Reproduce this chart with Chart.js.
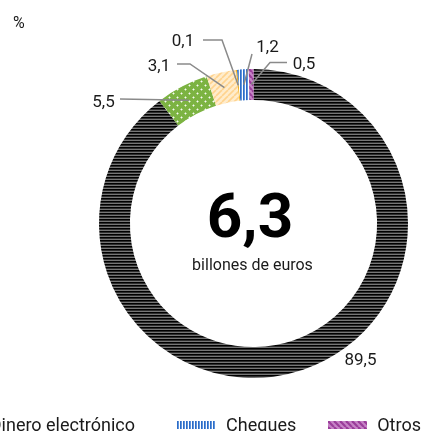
<!DOCTYPE html>
<html><head><meta charset="utf-8">
<script src="https://cdn.jsdelivr.net/npm/chart.js@4.4.1/dist/chart.umd.min.js"></script>
<style>
html,body{margin:0;padding:0;background:#fff;width:422px;height:431px;overflow:hidden;position:relative;font-family:Roboto,sans-serif;}
#c{position:absolute;left:0;top:0;}
#legend{position:absolute;right:1px;top:414px;white-space:nowrap;display:flex;align-items:center;font-size:18px;color:#1a1a1a;}
.item{display:flex;align-items:center;margin-left:32px;}
.item.wide{margin-left:42px;}
.item canvas{margin-right:10px;display:block;}
</style></head><body>
<canvas id="c" width="422" height="431"></canvas>
<div id="legend"></div>
<script>
// ---- data ----
const categories = ['Transferencias', 'Adeudos directos', 'Tarjetas', 'Dinero electrónico', 'Cheques', 'Otros'];
const shares = [89.5, 5.5, 3.1, 0.1, 1.2, 0.5];
const valueLabels = ['89,5', '5,5', '3,1', '0,1', '1,2', '0,5'];
const unitLabel = '%';
const totalLabel = '6,3';
const totalUnit = 'billones de euros';

// ---- layout of the labels (relative to doughnut centre) ----
const labelLayout = [
  {tx: 107, ty: 141.5, line: null},
  {tx: -150, ty: -116.5, line: [[-133.5, -124.5]]},
  {tx: -94.5, ty: -152.5, line: [[-76.5, -159.5], [-63.5, -159.5]]},
  {tx: -70.5, ty: -177.5, line: [[-50.5, -183.5], [-31.5, -183.5]]},
  {tx: 14, ty: -171.5, line: [[-1.5, -169.5]]},
  {tx: 50.5, ty: -154.5, line: [[33.5, -161], [16.5, -161]]}
];

const cv = document.getElementById('c');
const ctx0 = cv.getContext('2d');
function tile(w, h, draw) {
  const c = document.createElement('canvas'); c.width = w; c.height = h;
  draw(c.getContext('2d'), w, h);
  return ctx0.createPattern(c, 'repeat');
}
function diag(base, stripe, size, lw, dir) {
  return tile(size, size, (x, w, h) => {
    x.fillStyle = base; x.fillRect(0, 0, w, h);
    x.strokeStyle = stripe; x.lineWidth = lw;
    for (let k = -1; k <= 1; k++) {
      x.beginPath();
      if (dir > 0) { x.moveTo(k * w, h); x.lineTo(k * w + w, 0); }
      else { x.moveTo(k * w, 0); x.lineTo(k * w + w, h); }
      x.stroke();
    }
  });
}
function stripesH(colors) {
  return tile(1, colors.length, (x) => { colors.forEach((c, i) => { x.fillStyle = c; x.fillRect(0, i, 1, 1); }); });
}
function stripesV(colors) {
  return tile(colors.length, 1, (x) => { colors.forEach((c, i) => { x.fillStyle = c; x.fillRect(i, 0, 1, 1); }); });
}
const fills = [
  stripesH(['#000000', '#2e2e2e', '#767676']),
  tile(8, 8, (x) => {
    x.fillStyle = '#7cb342'; x.fillRect(0, 0, 8, 8);
    x.fillStyle = 'rgba(255,255,255,0.95)';
    [[1, 1], [5, 5]].forEach(([a, b]) => { x.fillRect(a, b, 1, 1); });
    x.fillStyle = 'rgba(255,255,255,0.45)';
    [[1, 1], [5, 5]].forEach(([a, b]) => { x.fillRect(a - 1, b, 1, 1); x.fillRect(a + 1, b, 1, 1); x.fillRect(a, b - 1, 1, 1); x.fillRect(a, b + 1, 1, 1); });
  }),
  diag('#ffeccc', '#ffd38e', 6, 1.6, 1),
  '#f4a900',
  stripesV(['#2e6cc6', '#5f95dc', '#ffffff']),
  diag('#c784c7', '#9a3d9a', 6, 2.2, -1)
];

const labelPlugin = {
  id: 'labels',
  afterDatasetsDraw(chart) {
    const ctx = chart.ctx;
    const meta = chart.getDatasetMeta(0);
    const ca = chart.chartArea;
    const cx = (ca.left + ca.right) / 2, cy = (ca.top + ca.bottom) / 2;
    ctx.save();
    ctx.strokeStyle = '#8a8a8a'; ctx.lineWidth = 1.5;
    ctx.fillStyle = '#1a1a1a';
    ctx.font = '17px Roboto'; ctx.textAlign = 'center'; ctx.textBaseline = 'alphabetic';
    meta.data.forEach((arc, i) => {
      const L = labelLayout[i];
      const p = arc.tooltipPosition();
      if (L.line) {
        ctx.beginPath();
        ctx.moveTo(cx + L.line[0][0], cy + L.line[0][1]);
        for (let k = 1; k < L.line.length; k++) ctx.lineTo(cx + L.line[k][0], cy + L.line[k][1]);
        ctx.lineTo(p.x, p.y);
        ctx.stroke();
      }
      ctx.fillText(valueLabels[i], cx + L.tx, cy + L.ty);
    });
    ctx.fillStyle = '#000';
    ctx.font = 'bold 62px Roboto';
    ctx.fillText(totalLabel, cx - 3.5, cy + 13.5);
    ctx.font = '16px Roboto';
    ctx.fillStyle = '#1a1a1a';
    ctx.fillText(totalUnit, cx - 1, cy + 46.5);
    ctx.textAlign = 'left';
    ctx.fillText(unitLabel, 13, 28);
    ctx.restore();
  }
};

new Chart(cv, {
  type: 'doughnut',
  data: {
    labels: categories,
    datasets: [{ data: shares, backgroundColor: fills, borderWidth: 0, hoverOffset: 0 }]
  },
  options: {
    responsive: false,
    animation: false,
    cutout: '80%',
    layout: { padding: { left: 99, right: 14, top: 69, bottom: 53 } },
    plugins: { legend: { display: false }, tooltip: { enabled: false } },
    events: []
  },
  plugins: [labelPlugin]
});

// HTML legend
const lg = document.getElementById('legend');
categories.forEach((name, i) => {
  const it = document.createElement('div');
  it.className = 'item' + (name === 'Cheques' ? ' wide' : '');
  const sw = document.createElement('canvas'); sw.width = 39; sw.height = 8;
  const sctx = sw.getContext('2d'); sctx.fillStyle = fills[i]; sctx.fillRect(0, 0, 39, 8);
  const tx = document.createElement('span'); tx.textContent = name;
  it.appendChild(sw); it.appendChild(tx); lg.appendChild(it);
});
</script></body></html>
